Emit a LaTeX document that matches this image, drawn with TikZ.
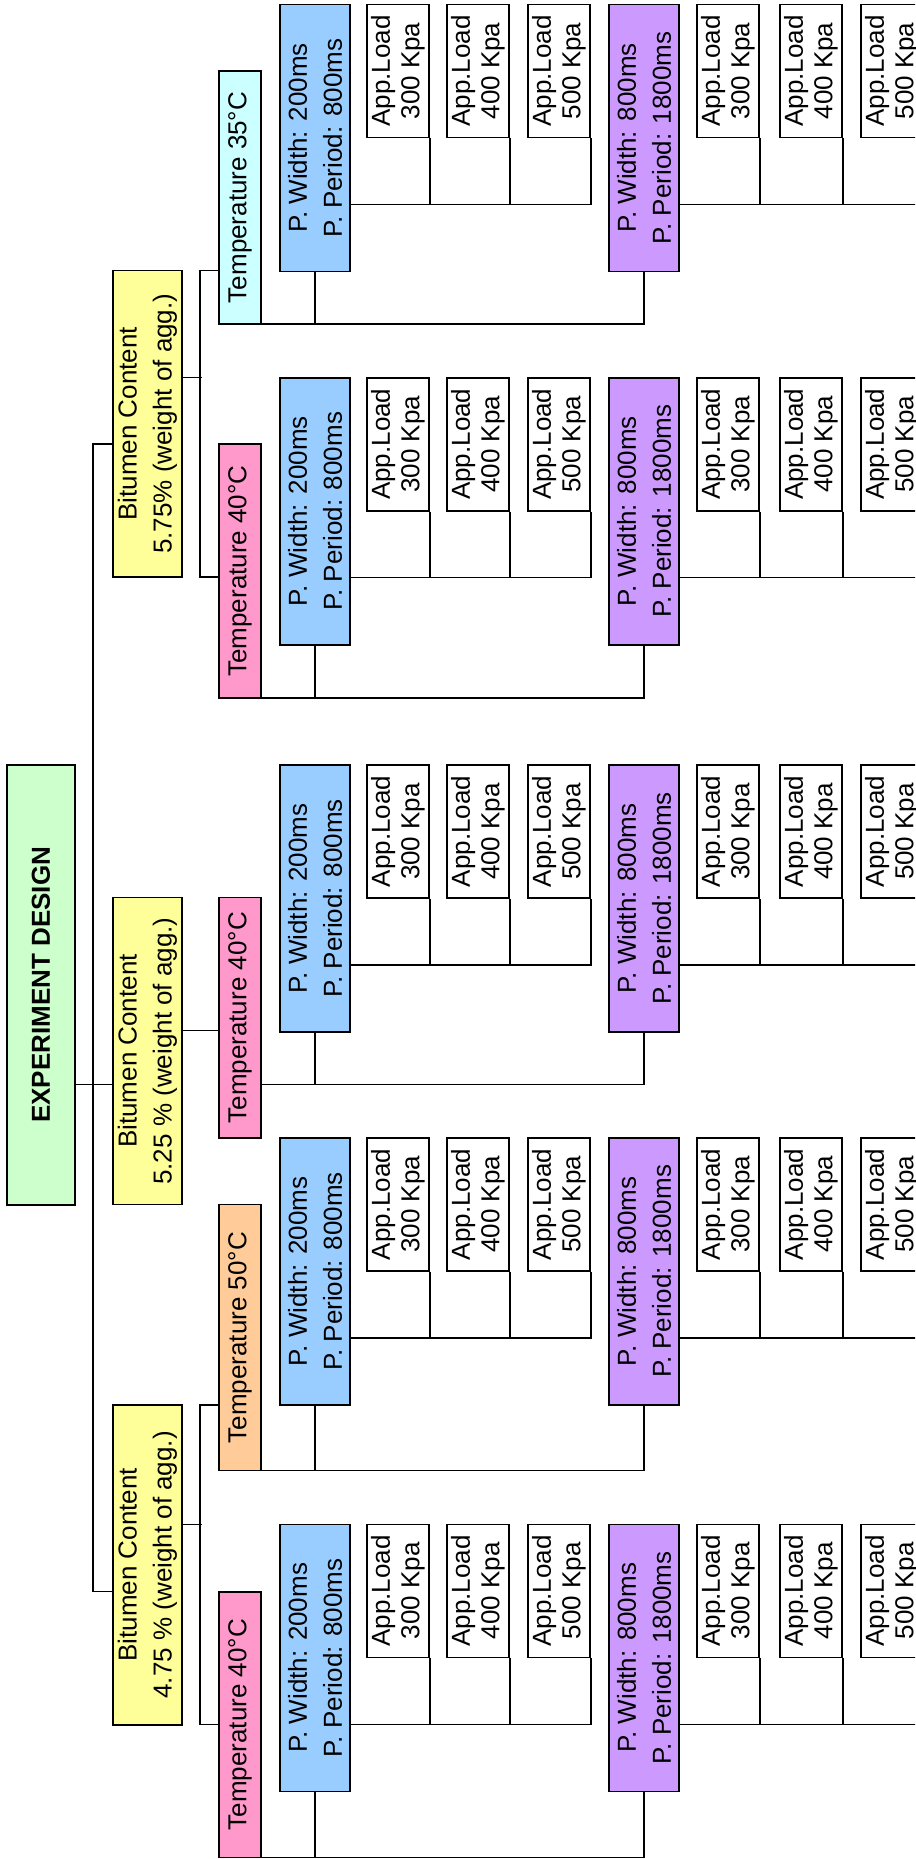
\documentclass[tikz,border=0pt]{standalone}
\usepackage{fontspec}
\setmainfont{Liberation Sans}
\usepackage{tikz}
\definecolor{rootgreen}{HTML}{CCFFCC}
\definecolor{bitumenyellow}{HTML}{FFFF99}
\definecolor{temppink}{HTML}{FF99CC}
\definecolor{tempcyan}{HTML}{CCFFFF}
\definecolor{temporange}{HTML}{FFCC99}
\definecolor{pulseblue}{HTML}{99CCFF}
\definecolor{pulsepurple}{HTML}{CC99FF}
\tikzset{
  box_base/.style={draw=black, line width=1.6pt, rotate=90, inner sep=0pt, align=center, font=\fontsize{26}{35}\selectfont},
  root_box/.style={box_base, fill=rootgreen, minimum height=68pt, font=\fontsize{26}{35}\selectfont\bfseries},
  bitumen_box/.style={box_base, fill=bitumenyellow, minimum height=69pt},
  temp_box/.style={box_base, minimum height=42pt},
  pulse_box/.style={box_base, minimum width=267pt, minimum height=70pt},
  load_box/.style={box_base, fill=white, minimum width=133pt, minimum height=62pt, font=\fontsize{26}{29.5}\selectfont},
  link/.style={-, line width=1.5pt, black}
}

\begin{document}
\begin{tikzpicture}[x=1pt, y=-1pt]
  \useasboundingbox (0,0) rectangle (915,1859);
  \clip (0,0) rectangle (915,1859);

  % root, bitumen content and temperature levels
  \node[root_box, minimum width=440pt] (root) at (41,984.8) {EXPERIMENT DESIGN};
  \node[bitumen_box, minimum width=306.5pt] (bit575) at (147.5,423.75) {Bitumen Content\\5.75\% (weight of agg.)};
  \node[bitumen_box, minimum width=307pt] (bit525) at (147.5,1051) {Bitumen Content\\5.25 \% (weight of agg.)};
  \node[bitumen_box, minimum width=319.7pt] (bit475) at (147.5,1564.85) {Bitumen Content\\4.75 \% (weight of agg.)};
  \node[temp_box, fill=tempcyan, minimum width=253pt] (temp_a) at (240,197.5) {Temperature 35°C};
  \node[temp_box, fill=temppink, minimum width=254pt] (temp_b) at (240,571) {Temperature 40°C};
  \node[temp_box, fill=temppink, minimum width=240.5pt] (temp_c) at (240,1017.75) {Temperature 40°C};
  \node[temp_box, fill=temporange, minimum width=266pt] (temp_d) at (240,1337.65) {Temperature 50°C};
  \node[temp_box, fill=temppink, minimum width=265.3pt] (temp_e) at (240,1724.65) {Temperature 40°C};

  \draw[link] (root.south |- 0,1084.6) -- (bit525.north |- 0,1084.6);
  \draw[link] (bit575.north |- 0,444) -- ++(-19,0) |- (bit475.north |- 0,1591.7);
  \draw[link] (bit575.south |- 0,377.7) -- ++(19,0);
  \draw[link] (temp_a.north |- 0,270.5) -- ++(-18,0) |- (temp_b.north |- 0,577);
  \draw[link] (bit525.south |- 0,1030.7) -- (temp_c.north |- 0,1030.7);
  \draw[link] (bit475.south |- 0,1524.3) -- ++(19,0);
  \draw[link] (temp_d.north |- 0,1405) -- ++(-18,0) |- (temp_e.north |- 0,1724.7);

  % pulse and load levels, one row per temperature
  \foreach \grp/\ytop/\yl in {a/4.5/324, b/377.7/698, c/765/1084.6, d/1137.9/1470.7, e/1524.3/1857.3}{
    \node[pulse_box, fill=pulseblue] (pw200_\grp) at (315,\ytop+133.5) {P. Width: 200ms\\P. Period: 800ms};
    \node[pulse_box, fill=pulsepurple] (pw800_\grp) at (644,\ytop+133.5) {P. Width: 800ms\\P. Period: 1800ms};
    \foreach \lx/\kpa [count=\i] in {398/300, 478/400, 559/500}
      \node[load_box] (lda_\grp\i) at (\lx,\ytop+66.5) {App.Load\\\kpa{} Kpa};
    \foreach \lx/\kpa [count=\i] in {728/300, 811/400, 892/500}
      \node[load_box] (ldb_\grp\i) at (\lx,\ytop+66.5) {App.Load\\\kpa{} Kpa};

    \draw[link] (temp_\grp.south |- 0,\yl) -| (pw800_\grp.west);
    \draw[link] (pw200_\grp.west) -- (pw200_\grp.west |- 0,\yl);
    \draw[link] (pw200_\grp.south |- 0,\ytop+200) -| (lda_\grp3.south west);
    \draw[link] (pw800_\grp.south |- 0,\ytop+200) -| (ldb_\grp3.south west);
    \foreach \i in {1,2}{
      \draw[link] (lda_\grp\i.south west) -- (lda_\grp\i.south west |- 0,\ytop+200);
      \draw[link] (ldb_\grp\i.south west) -- (ldb_\grp\i.south west |- 0,\ytop+200);
    }
  }
\end{tikzpicture}
\end{document}
